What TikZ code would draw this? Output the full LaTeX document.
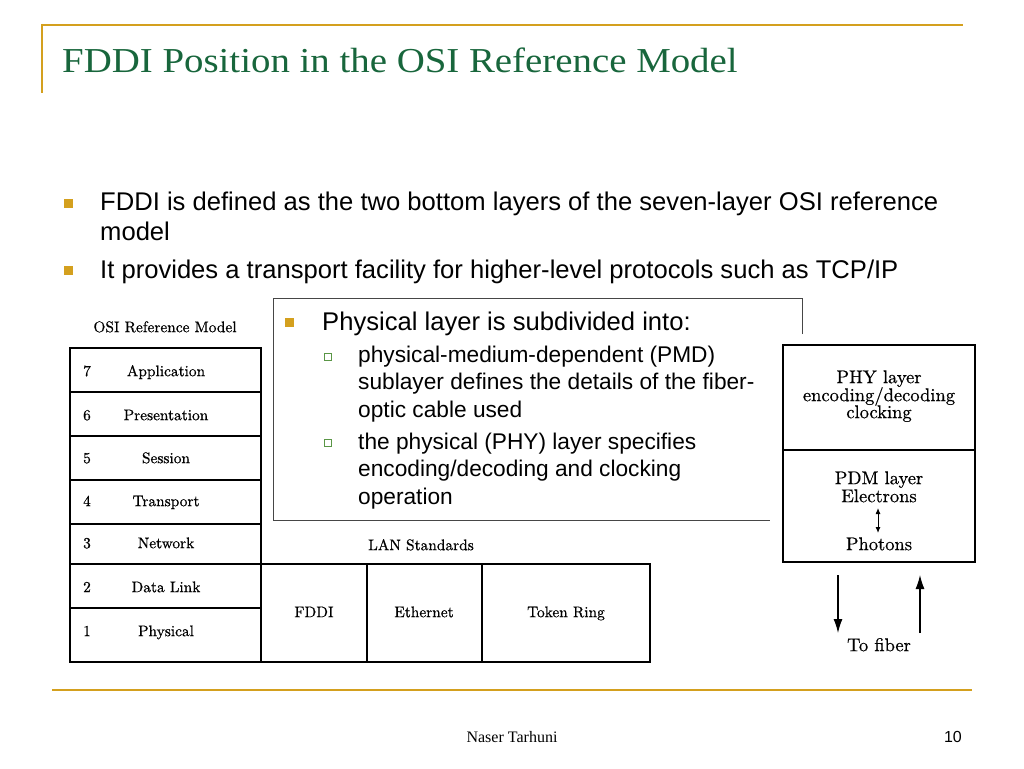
\documentclass[tikz,border=0pt]{standalone}
\usepackage{fontspec}
\newfontfamily\arialf{Liberation Sans}
\newfontfamily\seriff{Liberation Serif}
\newfontfamily\cmten{lmroman10-regular}[Extension=.otf, FakeBold=0.6]
\usetikzlibrary{arrows.meta}
\definecolor{gold}{RGB}{212,160,30}
\definecolor{titlegreen}{RGB}{24,102,60}
\definecolor{subgreen}{RGB}{90,150,70}
\definecolor{calloutgray}{RGB}{70,70,70}
\tikzset{
  bodytext/.style={anchor=base west, inner sep=0pt, font=\arialf\fontsize{25.6}{30}\selectfont},
  subtext/.style={anchor=base west, inner sep=0pt, font=\arialf\fontsize{22.7}{27}\selectfont},
  goldbul/.style={fill=gold, draw=none, minimum size=9pt, inner sep=0pt},
  subbul/.style={draw=subgreen, fill=white, line width=1.1pt, minimum size=7.5pt, inner sep=0pt},
  osilabel/.style={anchor=mid, inner sep=0pt, font=\cmten\fontsize{15.4}{18}\selectfont},
  phylabel/.style={anchor=mid, inner sep=0pt, font=\cmten\fontsize{18.5}{20}\selectfont},
  boxline/.style={draw=black, line width=1.7pt},
  goldline/.style={draw=gold, line width=2.6pt},
  arrowline/.style={draw=black, line width=1.2pt, -{Latex[length=14pt,width=9pt]}},
  smallarrow/.style={draw=black, line width=1pt, {Latex[length=6pt,width=5pt]}-{Latex[length=6pt,width=5pt]}},
}
\begin{document}
\begin{tikzpicture}[x=1pt,y=-1pt]
\useasboundingbox (0,0) rectangle (1024,768);
\fill[white] (0,0) rectangle (1024,768);

% header rules and title
\draw[goldline] (41,25) -- (963,25);
\draw[draw=gold, line width=2pt] (42,24) -- (42,93);
\node[anchor=base west, inner sep=0pt, text=titlegreen, font=\seriff\fontsize{35}{40}\selectfont] (title) at (62,72) {\scalebox{1.11}[1]{FDDI Position in the OSI Reference Model}};

% main bullets
\node[goldbul] (mb1) at (68,203) {};
\node[bodytext] (m1a) at (100,210) {FDDI is defined as the two bottom layers of the seven-layer OSI reference};
\node[bodytext] (m1b) at (100,240) {model};
\node[goldbul] (mb2) at (68,270) {};
\node[bodytext] (m2) at (100,278) {It provides a transport facility for higher-level protocols such as TCP/IP};

% callout
\draw[draw=calloutgray, line width=1pt] (802,334) -- (802,298) -- (273,298) -- (273,520) -- (770,520);
\node[goldbul] (cb) at (289,322) {};
\node[bodytext] (c0) at (322,330) {Physical layer is subdivided into:};
\node[subbul] (sb1) at (328,357) {};
\node[subtext] (c1a) at (358,362) {physical-medium-dependent (PMD)};
\node[subtext] (c1b) at (358,389) {sublayer defines the details of the fiber-};
\node[subtext] (c1c) at (358,417) {optic cable used};
\node[subbul] (sb2) at (328,443) {};
\node[subtext] (c2a) at (358,449) {the physical (PHY) layer specifies};
\node[subtext] (c2b) at (358,476) {encoding/decoding and clocking};
\node[subtext] (c2c) at (358,504) {operation};

% OSI stack
\node[osilabel] (osititle) at (165,330) {OSI Reference Model};
\draw[boxline] (70,348) rectangle (261,662);
\foreach \yy in {392,436,480,524,564,608} { \draw[boxline] (70,\yy) -- (261,\yy); }
\node[osilabel] (n7) at (87,374) {7};
\node[osilabel] (l7) at (166,374) {Application};
\node[osilabel] (n6) at (87,418) {6};
\node[osilabel] (l6) at (166,418) {Presentation};
\node[osilabel] (n5) at (87,461) {5};
\node[osilabel] (l5) at (166,461) {Session};
\node[osilabel] (n4) at (87,504) {4};
\node[osilabel] (l4) at (166,504) {Transport};
\node[osilabel] (n3) at (87,546) {3};
\node[osilabel] (l3) at (166,546) {Network};
\node[osilabel] (n2) at (87,590) {2};
\node[osilabel] (l2) at (166,590) {Data Link};
\node[osilabel] (n1) at (87,634) {1};
\node[osilabel] (l1) at (166,634) {Physical};

% LAN standards
\node[osilabel] (lan) at (421,548) {LAN Standards};
\draw[boxline] (261,564) rectangle (650,662);
\draw[boxline] (367,564) -- (367,662);
\draw[boxline] (482,564) -- (482,662);
\node[osilabel] (fddi) at (314,615) {FDDI};
\node[osilabel] (eth) at (424,615) {Ethernet};
\node[osilabel] (tr) at (566,615) {Token Ring};

% right diagram
\draw[boxline] (783,345) rectangle (975,562);
\draw[boxline] (783,450) -- (975,450);
\node[phylabel] (p1) at (879,381) {PHY layer};
\node[phylabel] (p2) at (879,399) {encoding/decoding};
\node[phylabel] (p3) at (879,416) {clocking};
\node[phylabel] (q1) at (879,482) {PDM layer};
\node[phylabel] (q2) at (879,500) {Electrons};
\node[phylabel] (q3) at (879,548) {Photons};
\coordinate (da) at (878,508);
\coordinate (db) at (878,533);
\draw[smallarrow] (da) -- (db);
\coordinate (d1) at (838,575);
\coordinate (d2) at (838,633);
\coordinate (u1) at (920,633);
\coordinate (u2) at (920,575);
\draw[arrowline] (d1) -- (d2);
\draw[arrowline] (u1) -- (u2);
\node[phylabel] (fib) at (879,649) {To fiber};

% footer
\draw[goldline] (52,690) -- (972,690);
\node[anchor=base, inner sep=0pt, font=\seriff\fontsize{16}{18}\selectfont] (auth) at (512,742) {Naser Tarhuni};
\node[anchor=base east, inner sep=0pt, font=\arialf\fontsize{16}{18}\selectfont] (pg) at (962,742) {10};
\end{tikzpicture}
\end{document}
